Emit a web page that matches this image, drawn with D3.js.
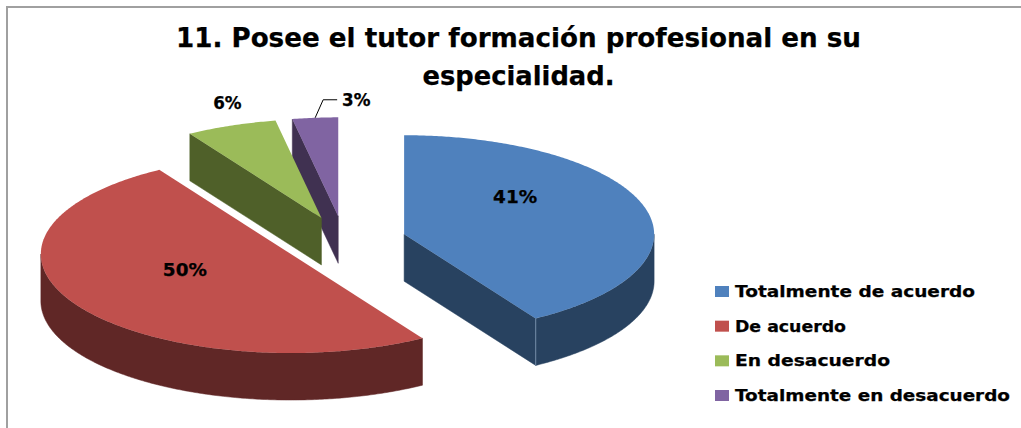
<!DOCTYPE html>
<html><head><meta charset="utf-8">
<script src="https://cdn.jsdelivr.net/npm/d3@7"></script>
<style>html,body{margin:0;padding:0;background:#fff}svg{display:block}text{font-family:"DejaVu Sans",Verdana,sans-serif;font-weight:bold;fill:#000;stroke:#000;stroke-width:.25}</style>
</head><body><div id="c"></div>
<script>
const categories = ["Totalmente de acuerdo","De acuerdo","En desacuerdo","Totalmente en desacuerdo"];
const values = [14,17,2,1];
const topColors = ["#4F81BD","#C0504D","#9BBB59","#8064A2"];
const sideColors = ["#284260","#602726","#4F6029","#403151"];
const titleLines = ["11. Posee el tutor formación profesional en su","especialidad."];
const titleWidths = [685,192];
const legendWidths = [240,111,155,275];
const labelOffsets = [[111,-37],[-106,16],[-94,-115],[18,-116]];

const W=1021,H=428, cx=344, cy=241, rx=250, ry=99, depth=47, explode=0.25;
const svg=d3.select("#c").append("svg").attr("width",W).attr("height",H);
svg.append("path").attr("d",d3.line()([[7,H],[7,7],[W,7]])).attr("fill","none").attr("stroke","#a0a0a0").attr("stroke-width",2);

const color=d3.scaleOrdinal(categories,topColors), side=d3.scaleOrdinal(categories,sideColors);
const X=d3.scaleLinear().domain([-1,1]).range([-rx,rx]), Y=d3.scaleLinear().domain([-1,1]).range([-ry,ry]);
const pie=d3.pie().value(d=>d.v).sort(null);
const total=d3.sum(values), pct=d3.format(".0%");
const data=categories.map((c,i)=>({c,v:values[i],off:labelOffsets[i]}));
const arcs=pie(data).map(a=>{
  const mid=(a.startAngle+a.endAngle)/2;
  return {...a,mid,ax:cx+X(Math.sin(mid)*explode),ay:cy+Y(-Math.cos(mid)*explode)};
});
const rim=(d,t)=>[d.ax+X(Math.sin(t)),d.ay+Y(-Math.cos(t))];
const samples=(a,b)=>{const n=Math.max(2,Math.ceil((b-a)/0.01));return d3.range(n+1).map(i=>a+(b-a)*i/n);};
const path=d3.line();

const order=[3,2,1,0]; // back to front
const g=svg.append("g");
order.forEach(i=>{
  const d=arcs[i], s=side(d.data.c), gg=g.append("g");
  const face=t=>{const [x,y]=rim(d,t);
    gg.append("path").attr("d",path([[d.ax,d.ay],[x,y],[x,y+depth],[d.ax,d.ay+depth]])+"Z").attr("fill",s).attr("stroke",s).attr("stroke-width",.5);};
  if(Math.sin(d.startAngle)<-1e-6) face(d.startAngle);
  if(Math.sin(d.endAngle)>1e-6) face(d.endAngle);
  const a0=Math.max(d.startAngle,Math.PI/2), a1=Math.min(d.endAngle,3*Math.PI/2);
  if(a1>a0){
    const top=samples(a0,a1).map(t=>rim(d,t));
    const bot=top.map(([x,y])=>[x,y+depth]).reverse();
    gg.append("path").attr("d",path(top.concat(bot))+"Z").attr("fill",s).attr("stroke",s).attr("stroke-width",.5);
  }
  const pts=[[d.ax,d.ay]].concat(samples(d.startAngle,d.endAngle).map(t=>rim(d,t)));
  gg.append("path").attr("d",path(pts)+"Z").attr("fill",color(d.data.c));
});
{const d=arcs[0],[x,y]=rim(d,d.endAngle);
 g.append("path").attr("d",path([[x,y],[x,y+depth]])).attr("stroke","#8fa9c6").attr("stroke-width",.7).attr("fill","none");}

{const d=arcs[3],[x,y]=rim(d,d.mid);
 svg.append("path").attr("d",path([[x,y],[x+8,y-18],[x+22,y-18]])).attr("fill","none").attr("stroke","#000").attr("stroke-width",1);}

svg.append("g").selectAll("text").data(arcs).join("text")
  .attr("x",d=>d.ax+d.data.off[0]).attr("y",d=>d.ay+d.data.off[1])
  .attr("text-anchor","middle").attr("dominant-baseline","central").attr("font-size",17)
  .attr("textLength",d=>(d.data.v/total<0.1?(pct(d.data.v/total).length*14.7-1):44)).attr("lengthAdjust","spacingAndGlyphs")
  .text(d=>pct(d.data.v/total));

svg.append("g").selectAll("text").data(titleLines).join("text")
  .attr("x",518.5).attr("y",(d,i)=>47+i*38).attr("text-anchor","middle").attr("font-size",26)
  .attr("textLength",(d,i)=>titleWidths[i]).attr("lengthAdjust","spacingAndGlyphs").text(d=>d);

const ly=d3.scalePoint().domain(categories).range([291.5,395.5]);
const lg=svg.append("g").selectAll("g").data(categories).join("g").attr("transform",c=>`translate(715,${ly(c)})`);
lg.append("rect").attr("y",-5.5).attr("width",14).attr("height",11).attr("fill",c=>color(c));
lg.append("text").attr("x",20).attr("y",5.5).attr("font-size",15.5)
  .attr("textLength",(c,i)=>legendWidths[i]).attr("lengthAdjust","spacingAndGlyphs").text(c=>c);
</script></body></html>
